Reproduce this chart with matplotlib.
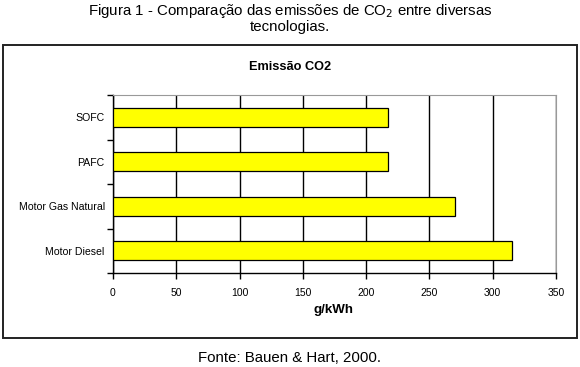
import matplotlib
matplotlib.use("Agg")
import matplotlib.pyplot as plt
from matplotlib.patches import Rectangle

plt.rcParams['font.family'] = ['Liberation Sans', 'DejaVu Sans']

# data
categories = ["Motor Diesel", "Motor Gas Natural", "PAFC", "SOFC"]
emissions = [315, 270, 217, 217]
xticks = [0, 50, 100, 150, 200, 250, 300, 350]

fig = plt.figure(figsize=(5.8, 3.67), dpi=100)

# outer chart frame
frame = Rectangle((3 / 580, 1 - 338 / 367), 574 / 580, 293 / 367,
                  transform=fig.transFigure, fill=False,
                  edgecolor="#222222", linewidth=1.4)
fig.add_artist(frame)

ax = fig.add_axes([113 / 580, 1 - 273 / 367, 443 / 580, 178 / 367])
ax.barh(range(len(categories)), emissions, height=0.42,
        color="#ffff00", edgecolor="black", linewidth=0.9, zorder=3)

ax.set_xlim(0, 350)
ax.set_ylim(-0.5, len(categories) - 0.5)
ax.set_xticks(xticks)
ax.set_xticklabels([str(t) for t in xticks], fontsize=7.5)
ax.set_yticks(range(len(categories)))
ax.set_yticklabels(categories, fontsize=7.6)
ax.tick_params(axis="y", length=0, pad=6)
ax.tick_params(axis="x", length=4, width=1, direction="out", pad=7)

# category boundary ticks on the y axis
ax.set_yticks([i - 0.5 for i in range(len(categories) + 1)], minor=True)
ax.tick_params(axis="y", which="minor", length=4, width=1, direction="out")

ax.xaxis.grid(True, color="black", linewidth=1)
ax.set_axisbelow(True)

ax.spines["left"].set_color("black")
ax.spines["bottom"].set_color("black")
ax.spines["left"].set_linewidth(1)
ax.spines["bottom"].set_linewidth(1)
ax.spines["top"].set_color("#999999")
ax.spines["right"].set_color("#999999")

fig.text(290 / 580, 1 - 67 / 367, "Emissão CO2", ha="center", va="center",
         fontsize=9.2, fontweight="bold")
fig.text(333 / 580, 1 - 310 / 367, "g/kWh", ha="center", va="center",
         fontsize=9.6, fontweight="bold")

fig.text(0.5, 1 - 15 / 367, "Figura 1 - Comparação das emissões de CO$_2$ entre diversas",
         ha="center", va="baseline", fontsize=10.8)
fig.text(0.5, 1 - 31 / 367, "tecnologias.", ha="center", va="baseline", fontsize=10.8)
fig.text(0.5, 1 - 358 / 367, "Fonte: Bauen & Hart, 2000.",
         ha="center", va="center", fontsize=10.8)

fig.savefig("out.png", dpi=100)
